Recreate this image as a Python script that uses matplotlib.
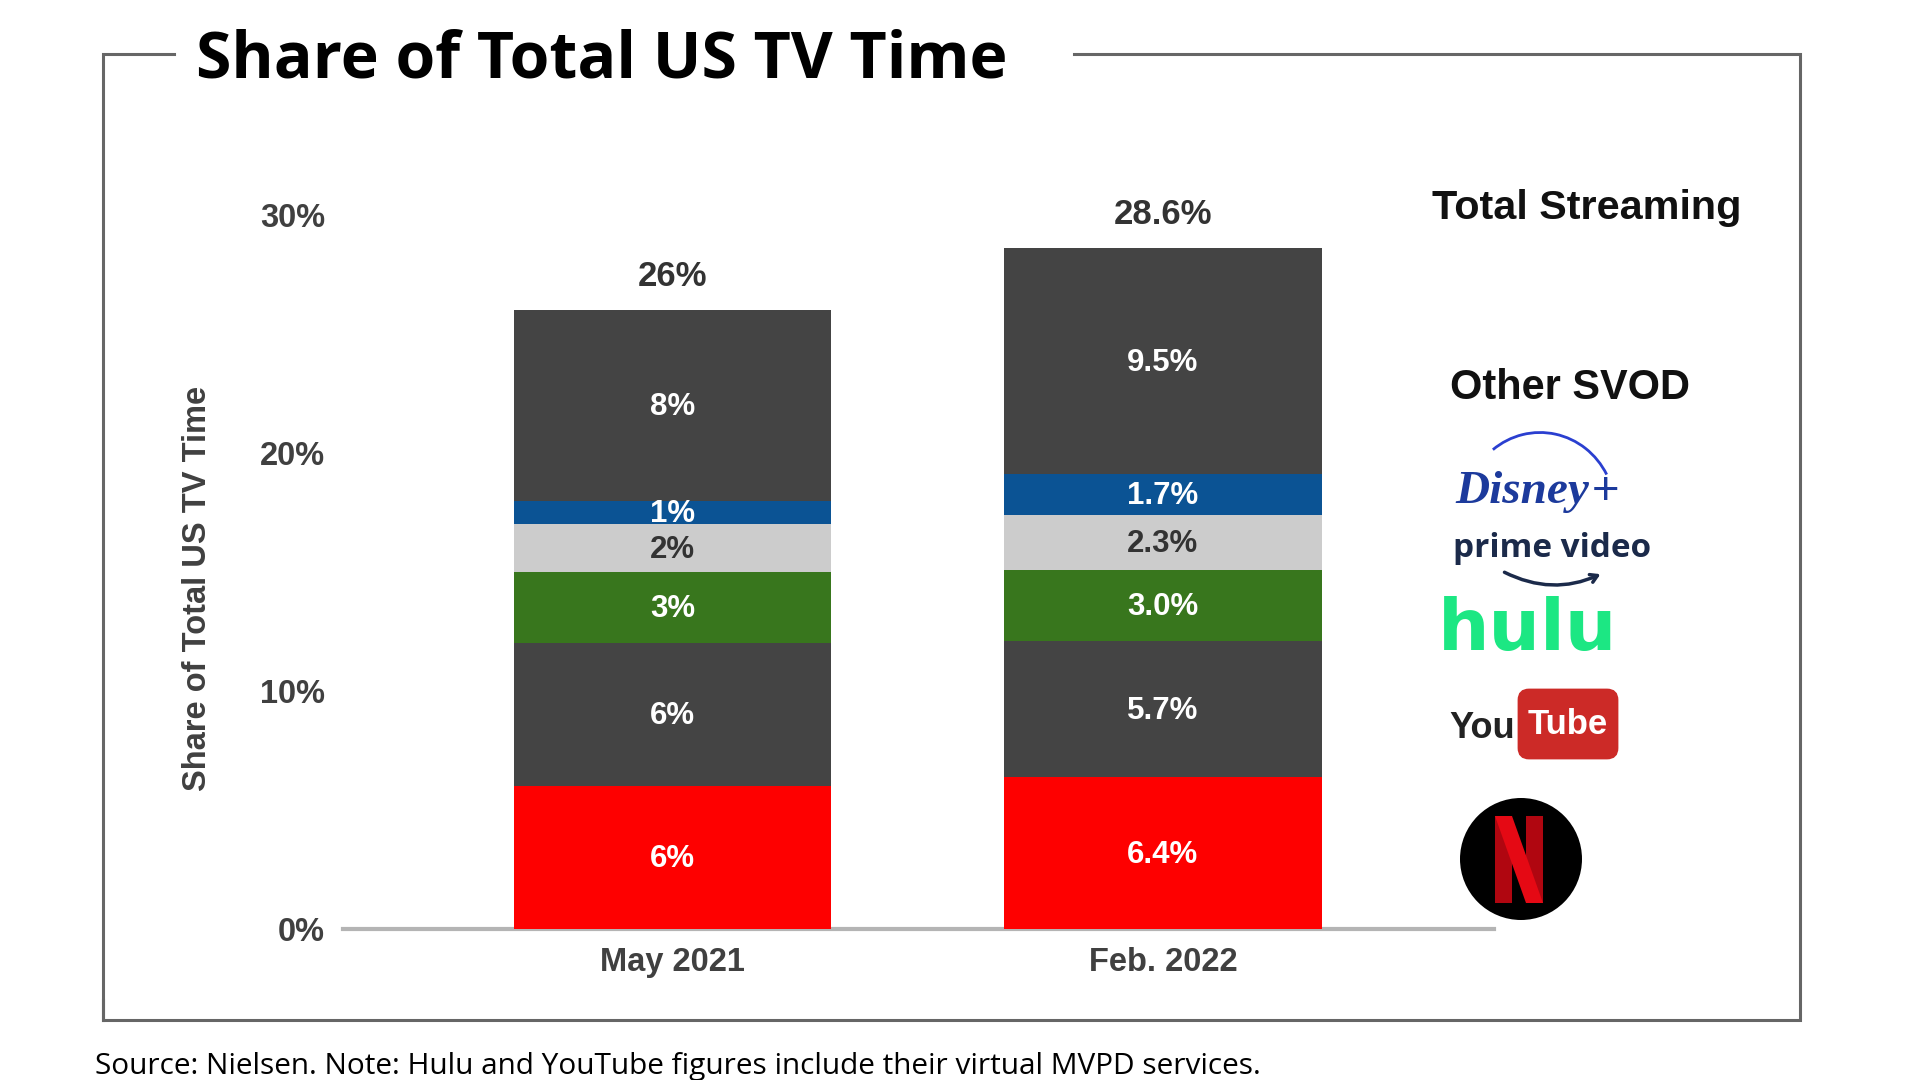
import matplotlib
matplotlib.use("Agg")
import matplotlib.pyplot as plt
from matplotlib.patches import Arc, Circle, FancyBboxPatch, Polygon, FancyArrowPatch

W, H = 1920, 1080
categories = ["May 2021", "Feb. 2022"]
netflix = [6.0, 6.4]
youtube_dark = [6.0, 5.7]
hulu = [3.0, 3.0]
prime = [2.0, 2.3]
disney = [1.0, 1.7]
other = [8.0, 9.5]
series = [netflix, youtube_dark, hulu, prime, disney, other]
colors = ["#fe0000", "#444444", "#38761d", "#cccccc", "#0b5394", "#444444"]
text_colors = ["white", "white", "white", "#333333", "white", "white"]
labels_may = ["6%", "6%", "3%", "2%", "1%", "8%"]
labels_feb = ["6.4%", "5.7%", "3.0%", "2.3%", "1.7%", "9.5%"]
totals = ["26%", "28.6%"]
total_values = [26.0, 28.6]
yticks = [0, 10, 20, 30]
ytick_labels = ["0%", "10%", "20%", "30%"]

SANS = "Liberation Sans"
HEAD = "Open Sans"
fig = plt.figure(figsize=(W / 100, H / 100), dpi=100, facecolor="white")

def px_axes(l, r, top, bottom):
    return [l / W, 1 - bottom / H, (r - l) / W, (bottom - top) / H]

ax = fig.add_axes(px_axes(343, 1494, 215, 929))
ax.set_xlim(-0.672, 1.675)
ax.set_ylim(0, 30)
ax.patch.set_alpha(0)
for s in ["top", "right", "left"]:
    ax.spines[s].set_visible(False)
ax.spines["bottom"].set_color("#b4b4b4")
ax.spines["bottom"].set_linewidth(3)

x = [0, 1]
bottoms = [0.0, 0.0]
for vals, col, tc, lm, lf in zip(series, colors, text_colors, labels_may, labels_feb):
    ax.bar(x, vals, width=0.648, bottom=bottoms, color=col, linewidth=0, zorder=3)
    for i, lab in enumerate((lm, lf)):
        ax.annotate(lab, (x[i], bottoms[i] + vals[i] / 2), xytext=(0, -1.2), textcoords="offset points",
                    color=tc, ha="center", va="center",
                    fontsize=22.5, fontweight="bold", family=SANS, zorder=4)
    bottoms = [b + v for b, v in zip(bottoms, vals)]

for i, (t, v) in enumerate(zip(totals, total_values)):
    ax.annotate(t, (x[i], v), xytext=(0, 24), textcoords="offset points",
                ha="center", va="center", fontsize=25, color="#333333",
                fontweight="bold", family=SANS)

ax.set_xticks(x, categories)
ax.set_yticks(yticks, ytick_labels)
ax.tick_params(axis="both", length=0, labelcolor="#404040", labelsize=23.5)
ax.tick_params(axis="x", pad=13)
ax.tick_params(axis="y", pad=13)
for t in ax.get_xticklabels() + ax.get_yticklabels():
    t.set_fontweight("bold")
    t.set_family(SANS)

# Overlay in pixel units for frame, title and logos
ov = fig.add_axes([0, 0, 1, 1], zorder=5)
ov.set_xlim(0, W)
ov.set_ylim(H, 0)
ov.axis("off")
ov.patch.set_alpha(0)

fc = "#666666"
ov.plot([174, 103, 103], [54, 54, 1020], color=fc, lw=2.2, solid_joinstyle="miter")
ov.plot([1074, 1800, 1800, 103, 103], [54, 54, 1020, 1020, 1000], color=fc, lw=2.2, solid_joinstyle="miter")

ov.text(196, 77, "Share of Total US TV Time", fontsize=46.4, fontweight="bold",
        family=HEAD, color="black", ha="left", va="baseline")
ov.text(95, 1074, "Source: Nielsen. Note: Hulu and YouTube figures include their virtual MVPD services.",
        fontsize=21.4, family=HEAD, color="black", ha="left", va="baseline")
ov.text(197, 588, "Share of Total US TV Time", rotation=90, fontsize=23.5, fontweight="bold",
        family=SANS, color="#404040", ha="center", va="center")

ov.text(1432, 208, "Total Streaming", fontsize=29.8, fontweight="bold", family=SANS, color="#111111",
        ha="left", va="center")
ov.text(1450, 388, "Other SVOD", fontsize=29.9, fontweight="bold", family=SANS, color="#111111",
        ha="left", va="center")

# Disney+
ov.add_patch(Arc((1540, 510), 150, 155, theta1=-128, theta2=-28, color="#2a3fd0", lw=2))
ov.text(1455, 492, "Disney", fontsize=34, family="Liberation Serif", style="italic", fontweight="bold",
        color="#1c3a9c", ha="left", va="center")
ov.text(1606, 492, "+", fontsize=34, family=SANS, color="#1c3a9c", ha="center", va="center")

# prime video
ov.text(1453, 557, "prime video", fontsize=24, fontweight="bold", family=HEAD, color="#1b2a4a",
        ha="left", va="baseline")
ov.add_patch(FancyArrowPatch((1502, 571), (1603, 573), connectionstyle="arc3,rad=0.25",
                             arrowstyle="->,head_length=5,head_width=3", color="#1b2a4a", lw=2.5))

# hulu
ov.text(1438, 650, "hulu", fontsize=52, fontweight="bold", family="DejaVu Sans", color="#1ce783",
        ha="left", va="baseline")

# YouTube
ov.text(1449, 738, "You", fontsize=26, fontweight="bold", family=SANS,
        color="#222222", ha="left", va="baseline")
ov.add_patch(FancyBboxPatch((1519, 690), 98, 68, boxstyle="round,pad=0,rounding_size=10",
                            fc="#cc2a27", ec="#cc2a27", lw=2))
ov.text(1568, 724, "Tube", fontsize=25, fontweight="bold", family=SANS,
        color="white", ha="center", va="center")

# Netflix
ov.add_patch(Circle((1521, 859), 61, fc="black", ec="none"))
ov.add_patch(Polygon([(1495, 816), (1512, 816), (1512, 903), (1495, 903)], fc="#b00610", ec="none"))
ov.add_patch(Polygon([(1526, 816), (1543, 816), (1543, 903), (1526, 903)], fc="#b00610", ec="none"))
ov.add_patch(Polygon([(1495, 816), (1512, 816), (1543, 903), (1526, 903)], fc="#e50914", ec="none"))

fig.savefig("out.png", dpi=100, facecolor="white")
